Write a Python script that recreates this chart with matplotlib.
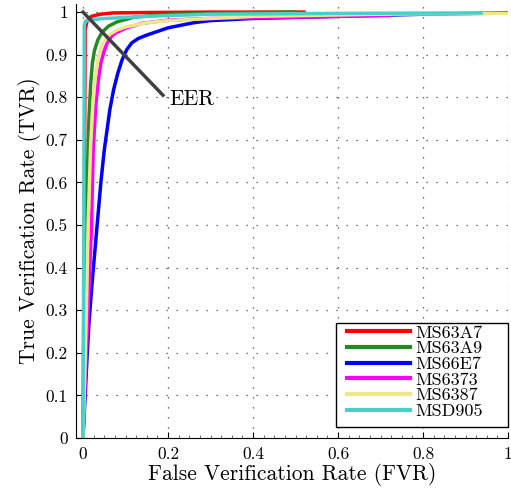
import numpy as np
import matplotlib
matplotlib.use("Agg")
import matplotlib.pyplot as plt
from matplotlib.patches import Rectangle
from matplotlib.ticker import FixedLocator, MultipleLocator

plt.rcParams['font.family'] = ['cmr10', 'DejaVu Serif']
plt.rcParams['axes.formatter.use_mathtext'] = True

# ROC curves (FVR, TVR)
names = ["MS63A7", "MS63A9", "MS66E7", "MS6373", "MS6387", "MSD905"]
colors = ["#ff0000", "#228b22", "#0000ff", "#ff00ff", "#f0e68c", "#48d1cc"]

fvr_ms63a7 = [0, 0.003, 0.005, 0.01, 0.02, 0.04, 0.07, 0.15, 0.3, 0.52]
tvr_ms63a7 = [0, 0.5, 0.96, 0.98, 0.99, 0.995, 0.998, 0.999, 1.0, 1.0]

fvr_ms63a9 = [0, 0.006, 0.01, 0.014, 0.018, 0.022, 0.027, 0.035, 0.045, 0.06, 0.08,
              0.12, 0.2, 0.35, 0.5]
tvr_ms63a9 = [0, 0.3, 0.6, 0.75, 0.83, 0.88, 0.91, 0.935, 0.953, 0.967, 0.977,
              0.988, 0.995, 0.998, 1.0]

fvr_ms66e7 = [0, 0.01, 0.014, 0.021, 0.028, 0.035, 0.042, 0.05, 0.063, 0.072, 0.082,
              0.092, 0.103, 0.115, 0.13, 0.15, 0.2, 0.26, 0.3, 0.4, 0.6, 0.8, 1.0]
tvr_ms66e7 = [0, 0.2, 0.27, 0.36, 0.44, 0.52, 0.6, 0.676, 0.77, 0.818, 0.857,
              0.888, 0.912, 0.928, 0.938, 0.946, 0.963, 0.975, 0.98, 0.985, 0.99, 0.995, 0.998]

fvr_ms6373 = [0, 0.01, 0.02, 0.024, 0.03, 0.036, 0.042, 0.05, 0.06, 0.075, 0.1, 0.14,
              0.2, 0.3, 0.5, 0.72]
tvr_ms6373 = [0, 0.25, 0.5, 0.676, 0.78, 0.84, 0.88, 0.91, 0.935, 0.95, 0.962, 0.974,
              0.981, 0.985, 0.988, 0.992]

fvr_ms6387 = [0, 0.008, 0.012, 0.018, 0.023, 0.028, 0.035, 0.045, 0.063, 0.08, 0.1,
              0.15, 0.2, 0.4, 0.7, 1.0]
tvr_ms6387 = [0, 0.3, 0.5, 0.69, 0.78, 0.84, 0.89, 0.925, 0.948, 0.958, 0.965,
              0.975, 0.98, 0.99, 0.995, 0.997]

fvr_msd905 = [0, 0.002, 0.003, 0.006, 0.02, 0.05, 0.15, 0.3, 0.6, 0.937]
tvr_msd905 = [0, 0.5, 0.97, 0.979, 0.982, 0.985, 0.99, 0.995, 0.997, 0.998]

curves = [(fvr_ms63a7, tvr_ms63a7), (fvr_ms63a9, tvr_ms63a9), (fvr_ms66e7, tvr_ms66e7),
          (fvr_ms6373, tvr_ms6373), (fvr_ms6387, tvr_ms6387), (fvr_msd905, tvr_msd905)]

# EER marker line
eer_x = [0, 0.188]
eer_y = [1.0, 0.805]

W, H = 511, 496
fig = plt.figure(figsize=(W / 100, H / 100), dpi=100)
ax = fig.add_axes([76 / W, 1 - 438 / H, 432 / W, 434 / H])

for (x, y), name, c in zip(curves, names, colors):
    ax.plot(x, y, color=c, lw=2.5, label=name, solid_joinstyle="round")

ax.plot(eer_x, eer_y, color="#404040", lw=2.5)
ax.text(0.202, 0.796, "EER", fontsize=15.5, va="center", ha="left")

ax.set_xlim(-0.0165, 1.0)
ax.set_ylim(0, 1.019)

xt = [0, 0.2, 0.4, 0.6, 0.8, 1.0]
yt = [i / 10 for i in range(11)]
ax.xaxis.set_major_locator(FixedLocator(xt))
ax.yaxis.set_major_locator(FixedLocator(yt))
ax.set_xticklabels(["0", "0.2", "0.4", "0.6", "0.8", "1"])
ax.set_yticklabels(["0"] + ["%.1f" % v for v in yt[1:-1]] + ["1"])
ax.xaxis.set_minor_locator(MultipleLocator(0.025))
ax.tick_params(which="major", direction="in", length=4, width=0.8, labelsize=12.5, pad=6)
ax.tick_params(which="minor", direction="in", length=2, width=0.6, colors="#555555")
ax.tick_params(axis="y", which="minor", left=False)

ax.spines["top"].set_visible(False)
ax.spines["right"].set_visible(False)
ax.grid(True, which="major", color="#444444", linestyle=(0, (1, 7)), lw=0.9)

ax.set_xlabel("False Verification Rate (FVR)", fontsize=15.5, labelpad=1)
ax.set_ylabel("True Verification Rate (TVR)", fontsize=15.5, labelpad=3)

# legend box drawn by hand so it can be wider than its content
box = Rectangle((336 / W, 1 - 427 / H), 172 / W, 104 / H, transform=fig.transFigure,
                facecolor="white", edgecolor="black", lw=1.0, zorder=4)
ax.add_patch(box)
box.set_clip_on(False)
leg = ax.legend(loc="upper left", bbox_to_anchor=(345 / W, 1 - 323 / H),
                bbox_transform=fig.transFigure, fontsize=13, frameon=False,
                handlelength=3.5, borderaxespad=0, labelspacing=0.0,
                handletextpad=0.3, borderpad=0.12)
leg.set_zorder(5)
for line in leg.get_lines():
    line.set_linewidth(3)

fig.savefig("out.png", dpi=100)
